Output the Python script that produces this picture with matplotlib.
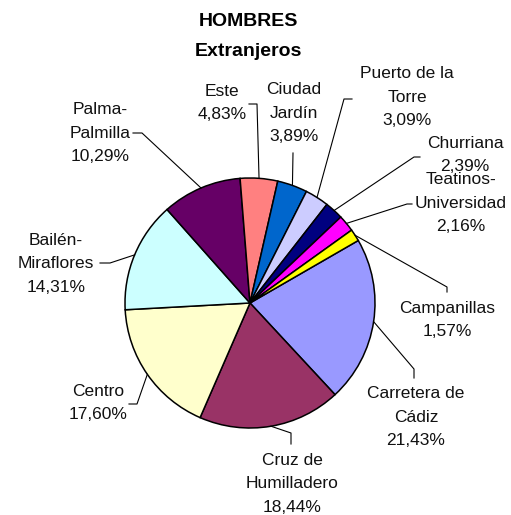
import matplotlib
matplotlib.use("Agg")
import matplotlib.pyplot as plt
import numpy as np

plt.rcParams["font.family"] = ["Liberation Sans", "DejaVu Sans"]

W, H = 511, 515

# data, in the order Excel draws the slices (clockwise)
barrios = ["Carretera de\nCádiz", "Cruz de\nHumilladero", "Centro", "Bailén-\nMiraflores",
           "Palma-\nPalmilla", "Este", "Ciudad\nJardín", "Puerto de la\nTorre",
           "Churriana", "Teatinos-\nUniversidad", "Campanillas"]
porcentajes = [21.43, 18.44, 17.60, 14.31, 10.29, 4.83, 3.89, 3.09, 2.39, 2.16, 1.57]
colores = ["#9999FF", "#993366", "#FFFFCC", "#CCFFFF", "#660066", "#FF8080",
           "#0066CC", "#CCCCFF", "#000080", "#FF00FF", "#FFFF00"]

# label layout in pixel coords: text centre, then leader-line points (elbow, end)
label_pos = [(416, 417), (292, 484), (98, 403), (56, 264), (100, 133), (222, 103),
             (294, 113), (407, 97), (465, 155), (461, 203), (447, 320)]
leaders = [[(414, 369), (414, 378)], [(291, 433), (291, 444)], [(137, 404), (129, 404)],
           [(110, 263), (100, 263)], [(142, 133), (133, 133)], [(257, 104), (249, 104)],
           [(293, 153)], [(344, 99), (352, 99)], [(414, 157), (420, 157)],
           [(407, 204), (412, 204)], [(447, 287), (447, 292)]]

CX, CY, R = 250, 303, 125
START = 30  # degrees, matplotlib convention


def py(y):
    return H - y


fig = plt.figure(figsize=(W / 100, H / 100), dpi=100)
ax = fig.add_axes([0, 0, 1, 1])

wedges, _ = ax.pie(porcentajes, colors=colores, startangle=START, counterclock=False,
                   center=(CX, py(CY)), radius=R,
                   wedgeprops=dict(edgecolor="black", linewidth=1.1))

ax.set_xlim(0, W)
ax.set_ylim(0, H)
ax.set_aspect("equal")
ax.axis("off")

for w, name, val, (tx, ty), pts in zip(wedges, barrios, porcentajes, label_pos, leaders):
    mid = np.deg2rad((w.theta1 + w.theta2) / 2)
    ax_x = CX + R * np.cos(mid)
    ax_y = py(CY) + R * np.sin(mid)
    xs = [ax_x] + [p[0] for p in pts]
    ys = [ax_y] + [py(p[1]) for p in pts]
    ax.plot(xs, ys, color="black", linewidth=0.8)
    txt = f"{name}\n{val:.2f}%".replace(".", ",")
    ax.text(tx, py(ty), txt, ha="center", va="center", fontsize=12.5,
            linespacing=1.7, color="#111111")

ax.text(248, py(22), "HOMBRES", ha="center", va="center",
        fontsize=14, fontweight="bold")
ax.text(248, py(51), "Extranjeros", ha="center", va="center",
        fontsize=14, fontweight="bold")

fig.savefig("out.png", dpi=100)
